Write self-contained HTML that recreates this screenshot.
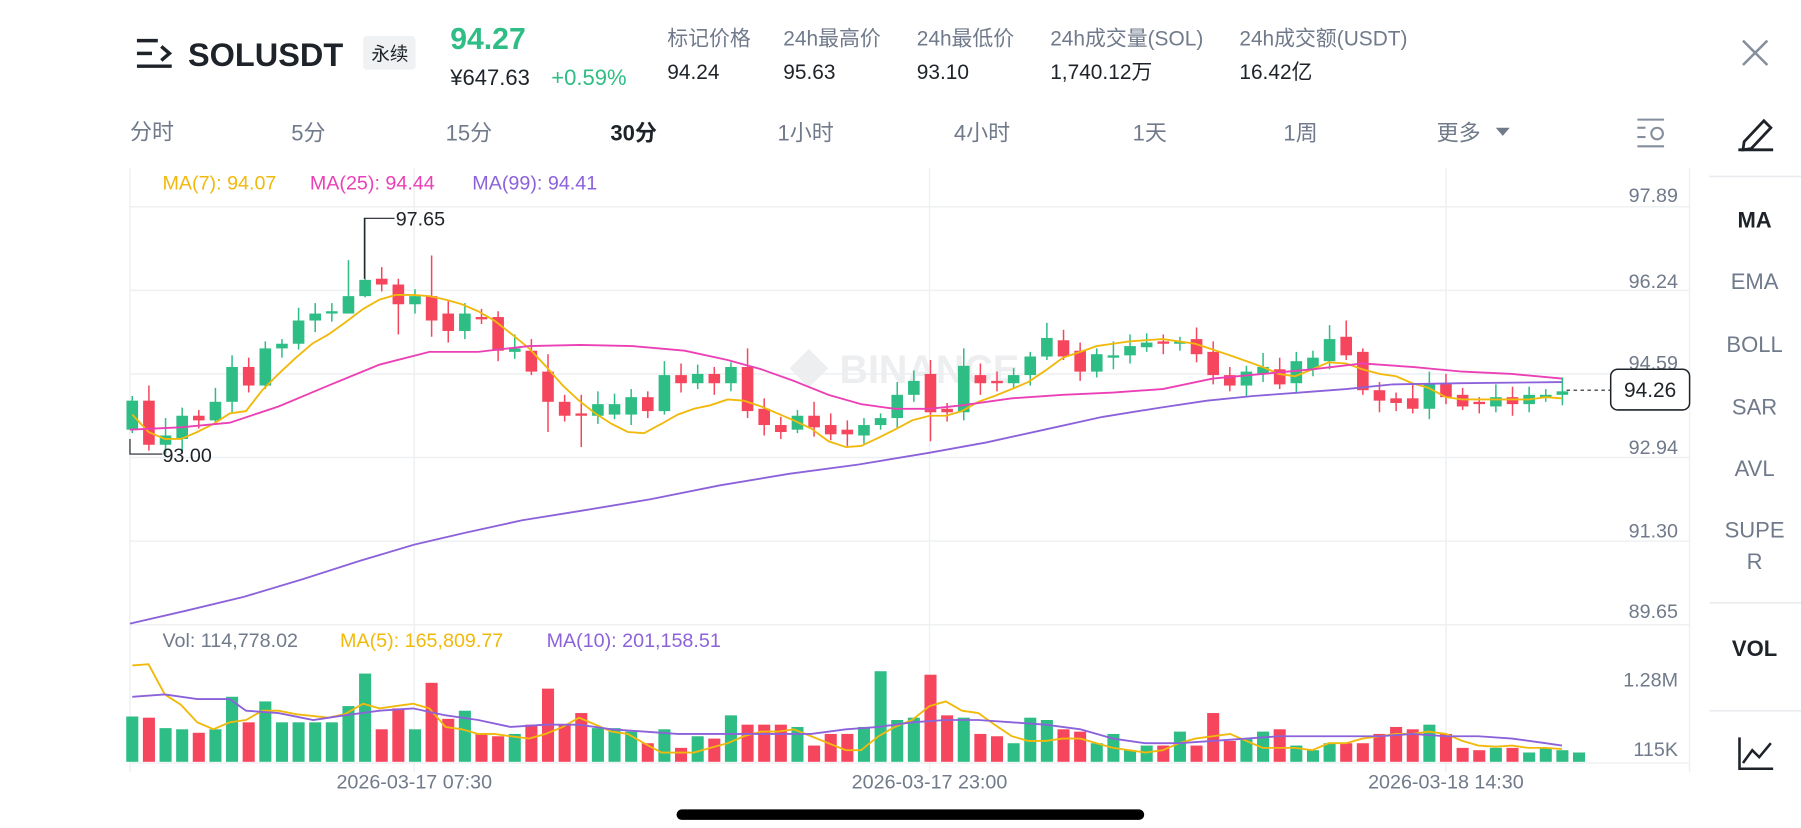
<!DOCTYPE html>
<html><head><meta charset="utf-8"><style>
html,body{margin:0;padding:0;background:#fff;width:1801px;height:828px;overflow:hidden}
svg{display:block}
text{font-family:"Liberation Sans","Noto Sans CJK SC",sans-serif}
</style></head><body>
<svg id="s" width="1801" height="828" viewBox="0 0 1552 713" preserveAspectRatio="none" xmlns="http://www.w3.org/2000/svg">
<rect width="1552" height="713" fill="#fff"/>
<g stroke="#1E2329" stroke-width="3" fill="none">
<line x1="118" y1="35" x2="136" y2="35"/><line x1="118" y1="46" x2="131" y2="46"/><line x1="118" y1="57" x2="148" y2="57"/>
<polyline points="139,40 146,46 139,52"/></g>
<text x="162" y="57" font-size="28" font-weight="bold" fill="#1E2329">SOLUSDT</text>
<rect x="313" y="31" width="45" height="29" rx="3" fill="#F0F1F2"/>
<text x="320" y="52" font-size="16" fill="#1E2329">永续</text>
<text x="388" y="42" font-size="26" font-weight="bold" fill="#2EBD85">94.27</text>
<text x="388" y="73" font-size="19" fill="#1E2329">¥647.63</text>
<text x="475" y="73" font-size="19" fill="#2EBD85">+0.59%</text>
<g font-size="18" fill="#707A8A">
<text x="575" y="39">标记价格</text><text x="675" y="39">24h最高价</text><text x="790" y="39">24h最低价</text><text x="905" y="39">24h成交量(SOL)</text><text x="1068" y="39">24h成交额(USDT)</text></g>
<g font-size="18" fill="#1E2329">
<text x="575" y="68">94.24</text><text x="675" y="68">95.63</text><text x="790" y="68">93.10</text><text x="905" y="68">1,740.12万</text><text x="1068" y="68">16.42亿</text></g>
<g stroke="#848E9C" stroke-width="2.2"><line x1="1502" y1="35" x2="1523" y2="56"/><line x1="1523" y1="35" x2="1502" y2="56"/></g>
<g font-size="19" fill="#707A8A">
<text x="112" y="120">分时</text><text x="251" y="121">5分</text><text x="384" y="121">15分</text><text x="670" y="121">1小时</text><text x="822" y="121">4小时</text><text x="976" y="121">1天</text><text x="1106" y="121">1周</text><text x="1238" y="121">更多</text></g>
<text x="526" y="121" font-size="19" font-weight="bold" fill="#1E2329">30分</text>
<polygon points="1289,110 1301,110 1295,117" fill="#707A8A"/>
<g stroke="#848E9C" stroke-width="1.8" fill="none"><line x1="1411" y1="103" x2="1434" y2="103"/><line x1="1411" y1="110" x2="1418" y2="110"/><line x1="1411" y1="118" x2="1418" y2="118"/><line x1="1411" y1="126" x2="1434" y2="126"/><circle cx="1428" cy="115" r="5"/></g>
<g stroke="#1E2329" stroke-width="2.4" fill="none"><path d="M1503,122 L1520,104 L1526,110 L1509,128 L1502,129 Z"/><line x1="1498" y1="129" x2="1528" y2="129"/></g>
<g stroke="#EAECEF" stroke-width="1.5"><line x1="1473" y1="152" x2="1552" y2="152"/><line x1="1473" y1="519" x2="1552" y2="519"/><line x1="1473" y1="612" x2="1552" y2="612"/></g>
<g font-size="19" fill="#707A8A" text-anchor="middle">
<text x="1512" y="249">EMA</text><text x="1512" y="303">BOLL</text><text x="1512" y="357">SAR</text><text x="1512" y="410">AVL</text><text x="1512" y="463">SUPE</text><text x="1512" y="490">R</text></g>
<g font-size="19" font-weight="bold" fill="#1E2329" text-anchor="middle"><text x="1512" y="196">MA</text><text x="1512" y="565">VOL</text></g>
<g stroke="#1E2329" stroke-width="2.2" fill="none"><polyline points="1499,635 1499,662 1528,662"/><polyline points="1502,657 1510,646 1516,652 1526,640"/></g>
<g stroke="#EEF0F2" stroke-width="1.3">
<line x1="112" y1="178" x2="1456" y2="178"/><line x1="112" y1="250" x2="1456" y2="250"/><line x1="112" y1="322" x2="1456" y2="322"/><line x1="112" y1="394" x2="1456" y2="394"/><line x1="112" y1="466" x2="1456" y2="466"/><line x1="112" y1="538" x2="1456" y2="538"/><line x1="112" y1="657" x2="1456" y2="657"/>
<line x1="112" y1="145" x2="112" y2="665"/><line x1="357" y1="145" x2="357" y2="665"/><line x1="801" y1="145" x2="801" y2="665"/><line x1="1246" y1="145" x2="1246" y2="665"/><line x1="1456" y1="145" x2="1456" y2="665"/></g>
<g font-size="17" fill="#707A8A" text-anchor="end">
<text x="1446" y="174">97.89</text><text x="1446" y="248">96.24</text><text x="1446" y="318">94.59</text><text x="1446" y="391">92.94</text><text x="1446" y="463">91.30</text><text x="1446" y="532">89.65</text><text x="1446" y="591">1.28M</text><text x="1446" y="651">115K</text></g>
<g font-size="17" fill="#707A8A" text-anchor="middle"><text x="357" y="679">2026-03-17 07:30</text><text x="801" y="679">2026-03-17 23:00</text><text x="1246" y="679">2026-03-18 14:30</text></g>
<text x="680" y="330" font-size="34" font-weight="bold" fill="#EDEEF0">◆ BINANCE</text>
<g font-size="17"><text x="140" y="163" fill="#F0B90B">MA(7): 94.07</text><text x="267" y="163" fill="#EB40B5">MA(25): 94.44</text><text x="407" y="163" fill="#8C62DB">MA(99): 94.41</text>
<text x="140" y="557" fill="#707A8A">Vol: 114,778.02</text><text x="293" y="557" fill="#F0B90B">MA(5): 165,809.77</text><text x="471" y="557" fill="#8C62DB">MA(10): 201,158.51</text></g>
<g id="c"></g>
<line x1="1350" y1="336" x2="1388" y2="336" stroke="#1E2329" stroke-dasharray="3,3"/>
<rect x="1388" y="318" width="68" height="35" rx="6" fill="#fff" stroke="#1E2329" stroke-width="1.3"/>
<text x="1422" y="342" font-size="18" fill="#1E2329" text-anchor="middle">94.26</text>
<polyline points="340,188 314,188 314,240" fill="none" stroke="#1E2329" stroke-width="1"/>
<text x="341" y="194" font-size="17" fill="#1E2329">97.65</text>
<polyline points="140,391 112,391 112,378" fill="none" stroke="#1E2329" stroke-width="1"/>
<text x="140" y="398" font-size="17" fill="#1E2329">93.00</text>
<rect x="583" y="697" width="403" height="9" rx="4.5" fill="#000"/>
</svg>
<script>
var G='#2EBD85',R='#F6465D';
var c=[['g',345,370],['r',345,383],['g',375,383],['g',358,378],['r',358,362],['g',346,362],['g',316,346],['r',316,332],['g',300,332],['g',296,300],['g',276,296],['g',270,276],['g',268,270],['g',255,270],['g',241,255],['r',240,245],['r',245,262],['g',255,262],['r',255,276],['r',270,285],['g',270,285],['r',273,275],['r',273,302],['g',300,303],['r',302,320],['r',320,346],['r',346,358],['r',356,358],['g',348,358],['g',348,357],['g',342,357],['r',342,354],['g',323,354],['r',323,330],['g',322,330],['r',322,330],['g',316,330],['r',316,354],['r',352,366],['r',366,372],['g',358,370],['r',358,368],['r',366,374],['r',370,374],['g',366,375],['g',360,366],['g',340,360],['g',328,340],['r',322,355],['r',352,355],['g',315,355],['r',323,330],['r',328,330],['g',323,330],['g',307,323],['g',291,307],['r',293,307],['r',302,320],['g',305,320],['g',306,308],['g',298,306],['g',295,299],['r',294,296],['g',294,296],['r',292,305],['r',303,323],['r',323,332],['g',320,332],['g',316,322],['r',318,331],['g',311,330],['g',308,318],['g',292,311],['r',290,306],['r',303,336],['r',336,345],['r',343,347],['r',343,352],['g',330,352],['r',330,342],['r',340,350],['r',346,348],['g',342,350],['r',342,348],['g',340,348],['g',340,342],['g',337,340]];
var wk={14:[188,256],18:[220,290],16:[240,288],13:[224,268],25:[305,372],27:[340,385],37:[300,360],48:[310,380],50:[300,362],55:[278,310],72:[280,318],73:[276,310],64:[282,312],74:[300,340],1:[332,388],2:[360,391]};
var vt=[617,618,627,628,631,628,600,622,604,622,622,622,622,608,580,628,610,628,588,619,612,632,634,632,624,593,624,614,627,627,630,640,628,644,634,636,616,624,624,624,626,642,632,632,626,578,620,618,581,616,618,632,634,640,618,620,628,630,640,632,646,642,642,630,642,614,638,636,630,628,642,646,640,640,640,632,626,628,624,632,644,646,644,644,648,644,646,648];
var s='';
c.forEach(function(d,i){var x=114+i*14.33,col=d[0]=='g'?G:R,t=d[1],b=Math.max(d[2],d[1]+1.5);
var w=wk[i]||[t-4-(i*7%9),b+3+(i*5%8)];
s+='<line x1="'+x+'" y1="'+w[0]+'" x2="'+x+'" y2="'+w[1]+'" stroke="'+col+'" stroke-width="1.3"/>';
s+='<rect x="'+(x-5)+'" y="'+t+'" width="10" height="'+(b-t)+'" fill="'+col+'"/>';});
vt.forEach(function(v,i){var x=114+i*14.33,col=(c[i]&&c[i][0]=='r')?R:G;s+='<rect x="'+(x-5.2)+'" y="'+v+'" width="10.4" height="'+(656-v)+'" fill="'+col+'"/>';});
function pl(p,col){return '<polyline points="'+p+'" fill="none" stroke="'+col+'" stroke-width="1.6"/>';}
s+=pl('114,357 128,372 142,378 156,378 170,372 184,365 198,356 212,354 226,336 240,322 255,308 269,296 283,288 297,278 313,266 327,258 341,254 356,254 370,255 384,258 398,262 412,268 426,276 440,287 456,300 470,315 485,332 499,345 513,356 527,365 541,372 555,373 570,365 584,357 598,352 612,349 627,344 641,345 656,350 670,356 684,362 699,369 714,380 729,385 742,384 757,377 771,370 786,362 801,358 815,358 829,354 843,346 857,341 872,335 886,329 901,319 916,308 931,303 945,298 959,296 973,294 987,293 1002,292 1016,294 1030,296 1045,301 1060,306 1074,311 1088,316 1102,322 1116,324 1131,318 1145,312 1160,313 1174,318 1189,322 1203,324 1217,330 1231,334 1246,342 1260,344 1274,344 1289,344 1303,344 1317,344 1332,342 1346,343','#F0B90B');
s+=pl('112,370 156,368 198,364 240,350 283,332 327,314 370,303 412,303 456,298 500,297 545,298 590,302 627,310 656,318 684,328 714,340 742,348 771,352 801,352 829,349 872,343 916,340 959,338 1002,335 1045,326 1088,322 1131,318 1174,313 1217,316 1260,320 1303,322 1346,326','#EB40B5');
s+=pl('112,537 160,526 210,514 260,499 310,483 357,469 400,459 450,448 500,440 560,430 620,418 680,408 740,400 800,390 850,381 900,370 950,359 1000,351 1040,345 1080,341 1120,338 1160,335 1200,331 1260,330 1346,329','#8C62DB');
s+=pl('114,573 128,572 142,598 156,607 170,622 184,628 198,622 212,620 226,612 240,612 255,615 283,618 297,615 313,606 327,610 341,608 356,606 370,610 384,626 398,628 412,632 426,632 440,634 456,636 470,632 485,626 499,618 513,624 527,630 541,632 555,640 570,648 584,648 598,648 612,644 627,640 641,634 656,630 670,630 684,628 699,634 714,640 729,646 742,646 757,634 771,626 786,620 801,608 815,604 829,612 843,614 857,624 872,634 886,638 901,638 916,636 931,636 945,640 959,644 973,646 987,648 1002,646 1016,640 1030,636 1045,634 1060,632 1074,638 1088,644 1102,644 1116,644 1131,646 1145,640 1160,640 1174,636 1189,634 1203,632 1217,632 1231,630 1246,632 1260,638 1274,642 1289,643 1303,642 1317,644 1332,644 1346,645','#F0B90B');
s+=pl('114,600 142,598 170,602 198,602 212,612 240,614 270,620 297,616 327,612 356,610 384,616 412,620 440,626 470,624 499,624 527,628 555,630 584,632 612,632 641,632 670,632 699,632 729,628 757,626 786,622 815,620 843,620 872,622 901,624 931,628 959,636 987,640 1016,640 1045,638 1074,636 1102,634 1131,634 1160,634 1189,634 1217,632 1246,634 1274,634 1303,636 1332,640 1346,642','#8C62DB');
document.getElementById('c').innerHTML=s;
</script>
</body></html>
